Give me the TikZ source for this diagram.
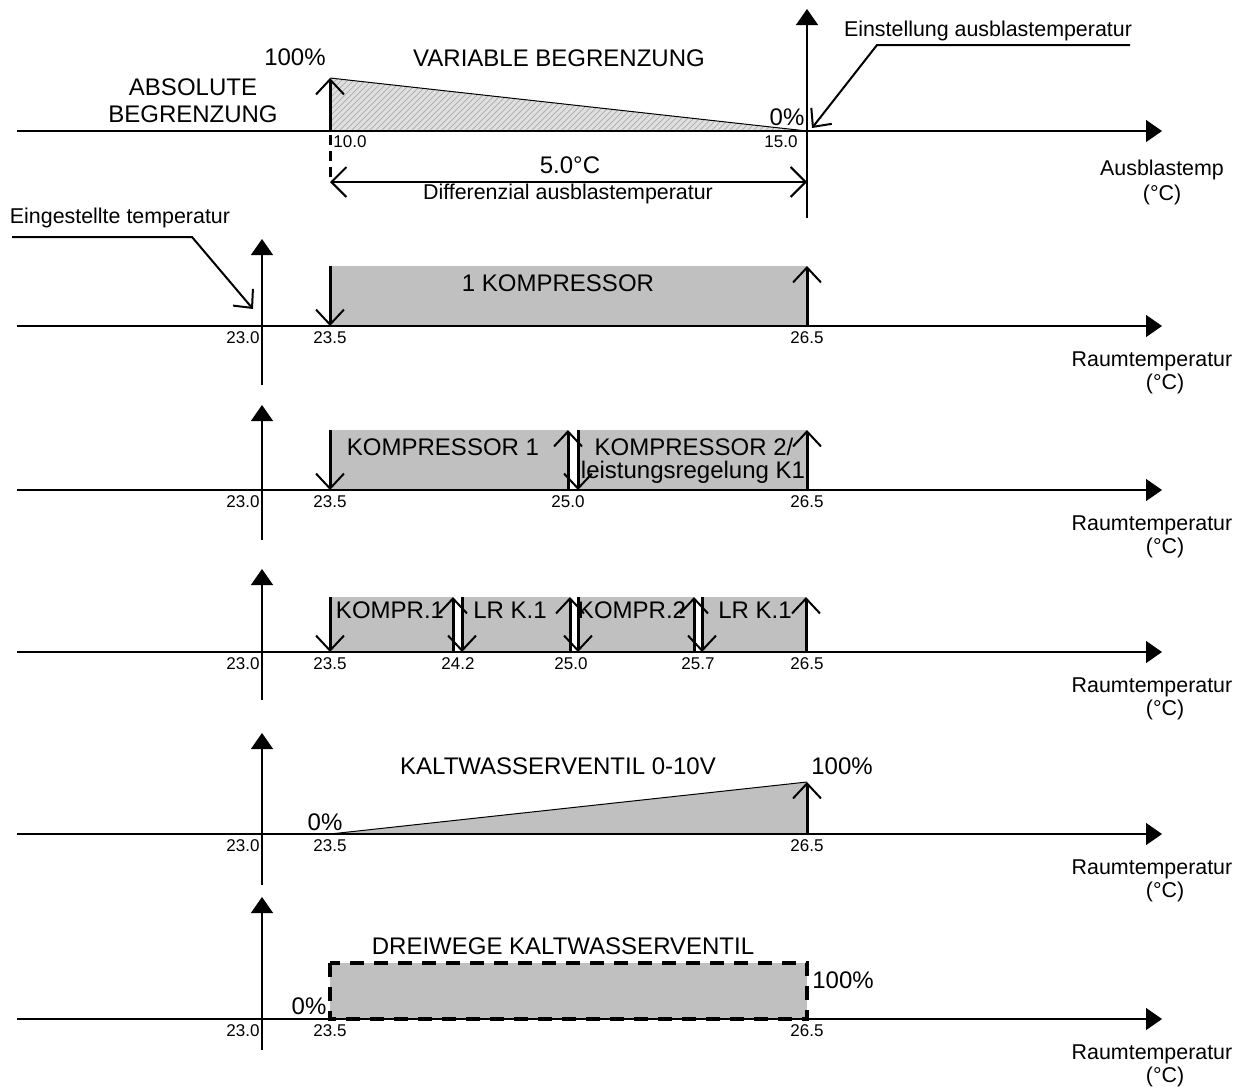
\documentclass[tikz,border=0pt]{standalone}
\usepackage{fontspec}
\setmainfont{Liberation Sans}
\usetikzlibrary{arrows.meta,patterns}
\definecolor{graybox}{RGB}{192,192,192}
\newcommand\fbig{\fontsize{12}{13.5}\selectfont}
\newcommand\fmid{\fontsize{10.7}{12.5}\selectfont}
\newcommand\fnum{\fontsize{8.5}{9.5}\selectfont}
\begin{document}
\begin{tikzpicture}[x=0.5pt,y=-0.5pt,
  axisline/.style={line width=0.6pt,-{Triangle[length=8pt,width=11pt]}},
  bararrow/.style={line width=1.5pt,-{Straight Barb[length=7.5pt,width=14pt,line width=1pt]}},
  leader/.style={line width=1pt,-{Straight Barb[length=7pt,width=13pt]}},
  dimarrow/.style={line width=1pt,{Straight Barb[length=7.5pt,width=15pt]}-{Straight Barb[length=7.5pt,width=15pt]}},
  graysurf/.style={fill=graybox,draw=none},
  bigtxt/.style={font=\fbig,inner sep=0pt},
  midtxt/.style={font=\fmid,inner sep=0pt},
  numtxt/.style={font=\fnum,inner sep=0pt}]
\useasboundingbox (0,0) rectangle (1242,1088);

% ---------------- Panel 1 ----------------
\coordinate (p1a) at (330,131);
\coordinate (p1top) at (330,78);
\coordinate (p1b) at (807,131);
\fill[black!12] (p1top) -- (p1b) -- (p1a) -- cycle;
\fill[pattern=north east lines,pattern color=black!30] (p1top) -- (p1b) -- (p1a) -- cycle;
\draw[line width=0.5pt] (p1top) -- (p1b);
\coordinate (h1a) at (17,131); \coordinate (h1b) at (1162,131);
\coordinate (v1a) at (807,218); \coordinate (v1b) at (807,9);
\draw[axisline] (h1a) -- (h1b);
\draw[axisline] (v1a) -- (v1b);
\draw[bararrow] (p1a) -- (p1top);
\coordinate (d1a) at (330,135); \coordinate (d1b) at (330,182);
\draw[line width=1.5pt,dash pattern=on 5pt off 3pt] (d1a) -- (d1b);
\coordinate (dl) at (330,182); \coordinate (dr) at (807,182);
\draw[dimarrow] (dl) -- (dr);
\node[bigtxt] (t100) at (295,57) {100\%};
\node[bigtxt] (tvar) at (559,58) {VARIABLE BEGRENZUNG};
\node[bigtxt,align=center] (tabs) at (193,101) {ABSOLUTE\\BEGRENZUNG};
\node[numtxt] (t10) at (350,142) {10.0};
\node[numtxt] (t15) at (781,142) {15.0};
\node[bigtxt] (t0a) at (787,117) {0\%};
\node[bigtxt] (t5c) at (570,165) {5.0°C};
\node[midtxt] (tdiff) at (568,194) {Differenzial ausblastemperatur};
\node[midtxt] (tein) at (988,31) {Einstellung ausblastemperatur};
\coordinate (l1a) at (1130,45); \coordinate (l1b) at (877,45); \coordinate (l1c) at (812,128);
\draw[leader] (l1a) -- (l1b) -- (l1c);
\node[midtxt] (taus) at (1162,170) {Ausblastemp};
\node[midtxt] (tausc) at (1162,195) {(°C)};

% ---------------- gray surfaces ----------------
\fill[graybox] (330,266) rectangle (807,326);
\fill[graybox] (330,430) rectangle (568,490);
\fill[graybox] (578,430) rectangle (807,490);
\fill[graybox] (330,597) rectangle (453,652);
\fill[graybox] (462,597) rectangle (570,652);
\fill[graybox] (578,597) rectangle (694,652);
\fill[graybox] (702,597) rectangle (806,652);
\coordinate (k5a) at (330,834); \coordinate (k5b) at (807,834); \coordinate (k5c) at (807,782);
\fill[graybox] (k5a) -- (k5b) -- (k5c) -- cycle;
\draw[line width=0.5pt] (k5a) -- (k5c);
\coordinate (r6a) at (330,963); \coordinate (r6b) at (807,1019);
\draw[graysurf] (r6a) rectangle (r6b);
\draw[line width=2pt,dash pattern=on 7pt off 5pt] (r6a) rectangle (r6b);

% ---------------- axes of panels 2-6 ----------------
\foreach \n/\ay/\vt/\vb in {2/326/239/385,3/490/405/540,4/652/569/700,5/834/733/885,6/1019/897/1050}{
  \coordinate (h\n a) at (17,\ay); \coordinate (h\n b) at (1162,\ay);
  \coordinate (v\n a) at (262,\vb); \coordinate (v\n b) at (262,\vt);
  \draw[axisline] (h\n a) -- (h\n b);
  \draw[axisline] (v\n a) -- (v\n b);
  \node[numtxt] (n\n x) at (243,\ay+12) {23.0};
  \node[numtxt] (n\n y) at (330,\ay+12) {23.5};
  \node[numtxt] (n\n z) at (807,\ay+12) {26.5};
  \node[midtxt] (r\n a) at (1152,\ay+35) {Raumtemperatur};
  \node[midtxt] (r\n b) at (1165,\ay+58) {(°C)};
}

% ---------------- Panel 2 ----------------
\coordinate (a2t) at (330,266); \coordinate (a2b) at (330,326);
\coordinate (b2t) at (807,266); \coordinate (b2b) at (807,326);
\draw[bararrow] (a2t) -- (a2b);
\draw[bararrow] (b2b) -- (b2t);
\node[bigtxt] (tk1) at (558,283) {1 KOMPRESSOR};
\node[midtxt] (teing) at (120,218) {Eingestellte temperatur};
\coordinate (l2a) at (12,237); \coordinate (l2b) at (192,237); \coordinate (l2c) at (253,309);
\draw[leader] (l2a) -- (l2b) -- (l2c);

% ---------------- Panel 3 ----------------
\node[bigtxt] (tk31) at (443,447) {KOMPRESSOR 1};
\node[bigtxt] (tk32) at (694,447) {KOMPRESSOR 2/};
\node[bigtxt] (tk33) at (693,472) {leistungsregelung K1};
\foreach \nm/\x/\d in {a/330/0,b/568/1,c/578/0,d/807/1}{
  \coordinate (a3\nm t) at (\x,430); \coordinate (a3\nm b) at (\x,490);
  \ifnum\d=0 \draw[bararrow] (a3\nm t) -- (a3\nm b); \else \draw[bararrow] (a3\nm b) -- (a3\nm t); \fi
}
\node[numtxt] (n3w) at (568,502) {25.0};

% ---------------- Panel 4 ----------------
\node[bigtxt] (tk41) at (390,610) {KOMPR.1};
\node[bigtxt] (tk42) at (510,610) {LR K.1};
\node[bigtxt] (tk43) at (632,610) {KOMPR.2};
\node[bigtxt] (tk44) at (755,610) {LR K.1};
\foreach \nm/\x/\d in {a/330/0,b/453/1,c/462/0,d/570/1,e/578/0,f/694/1,g/702/0,h/806/1}{
  \coordinate (a4\nm t) at (\x,597); \coordinate (a4\nm b) at (\x,652);
  \ifnum\d=0 \draw[bararrow] (a4\nm t) -- (a4\nm b); \else \draw[bararrow] (a4\nm b) -- (a4\nm t); \fi
}
\node[numtxt] (n4u) at (458,664) {24.2};
\node[numtxt] (n4v) at (571,664) {25.0};
\node[numtxt] (n4w) at (698,664) {25.7};

% ---------------- Panel 5 ----------------
\draw[bararrow] (k5b) -- (k5c);
\node[bigtxt] (tkw) at (558,766) {KALTWASSERVENTIL 0-10V};
\node[bigtxt] (t5h) at (842,766) {100\%};
\node[bigtxt] (t5z) at (325,822) {0\%};

% ---------------- Panel 6 ----------------
\node[bigtxt] (tdw) at (563,946) {DREIWEGE KALTWASSERVENTIL};
\node[bigtxt] (t6h) at (843,980) {100\%};
\node[bigtxt] (t6z) at (309,1006) {0\%};
\end{tikzpicture}
\end{document}
